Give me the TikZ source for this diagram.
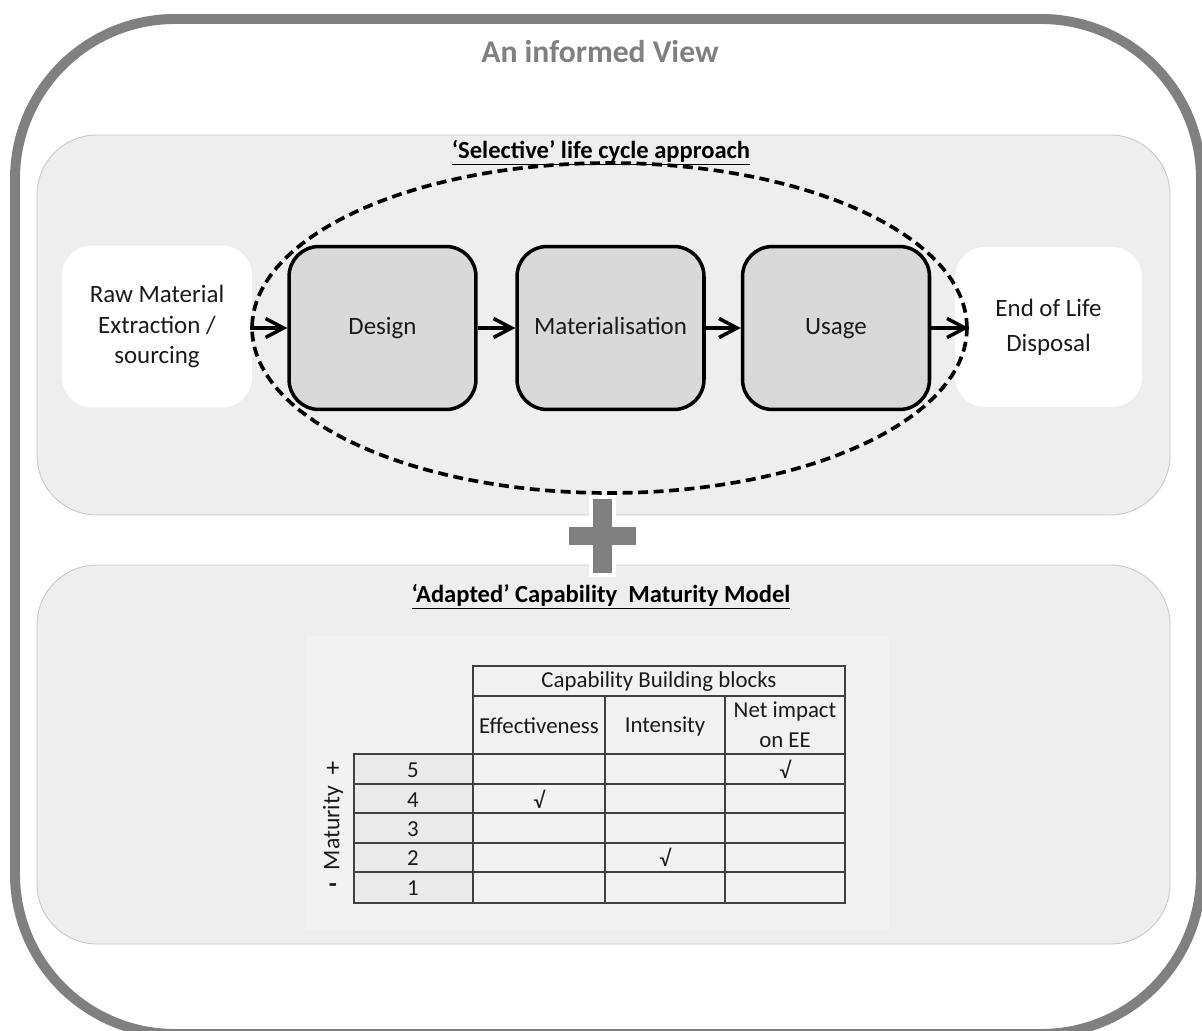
\documentclass[tikz,border=0pt]{standalone}
\usepackage{fontspec}
\setmainfont{Carlito}
\usetikzlibrary{arrows.meta,shapes.geometric}
\definecolor{framegray}{HTML}{808080}
\definecolor{panelfill}{HTML}{EEEEEE}
\definecolor{panelline}{HTML}{C8C8C8}
\definecolor{stagefill}{HTML}{D9D9D9}
\definecolor{tablebg}{HTML}{F2F2F2}
\definecolor{numcol}{HTML}{EAEAEA}
\definecolor{gridline}{HTML}{404040}
\definecolor{inktext}{HTML}{1A1A1A}
\tikzset{
  panel/.style={fill=panelfill, draw=panelline, line width=0.5pt, rounded corners=1.2cm},
  heading/.style={font=\fontsize{14}{17}\selectfont\bfseries, inner sep=0pt},
  outerbox/.style={fill=white, rounded corners=0.6cm, minimum width=3.8cm, minimum height=3.24cm, align=center, font=\fontsize{14.2}{17.5}\selectfont, inner sep=0pt, text=inktext},
  stagebox/.style={fill=stagefill, draw=black, line width=2pt, rounded corners=0.6cm, minimum width=3.74cm, minimum height=3.26cm, align=center, font=\fontsize{14.2}{17}\selectfont, inner sep=0pt, text height=10pt, text depth=3pt, text=inktext},
  flowarrow/.style={line width=2pt, -{Straight Barb[length=3.6mm, width=3.8mm]}},
  tabtext/.style={font=\fontsize{13}{17}\selectfont, align=center, inner sep=0pt, text=inktext},
  gridpen/.style={draw=gridline, line width=0.8pt},
}
\begin{document}
\begin{tikzpicture}[x=0.02cm, y=-0.02cm]
\useasboundingbox (0,0) rectangle (1202,1030);
\clip (0,0) rectangle (1202,1030);
% outer frame
\draw[framegray, line width=5.67pt, rounded corners=3.2cm] (15,19) rectangle (1201,1034);
\node[font=\fontsize{18}{22}\selectfont\bfseries, text=framegray] (title) at (600,52) {An informed View};
% panels
\draw[panel] (37,135) rectangle (1170,515);
\draw[panel] (37,565) rectangle (1170,944);
\node[heading] (h1) at (601,153) {\underline{‘Selective’ life cycle approach}};
\node[heading] (h2) at (601,597) {\underline{‘Adapted’ Capability\ \ Maturity Model}};
% life-cycle boxes
\node[outerbox] (raw) at (157,326.5) {Raw Material\\Extraction /\\sourcing};
\node[stagebox] (design) at (382.5,328) {Design};
\node[stagebox] (mat) at (610.5,328) {Materialisation};
\node[stagebox] (usage) at (836,328) {Usage};
\node[outerbox, minimum width=3.74cm, minimum height=3.2cm, font=\fontsize{14.2}{20}\selectfont] (eol) at (1048.5,327) {End of Life\\Disposal};
% selective ellipse
\node[ellipse, draw=black, line width=2.1pt, dash pattern=on 0.2cm off 0.11cm, minimum width=14.3cm, minimum height=6.6cm, inner sep=0pt] (sel) at (609.5,328) {};
% arrows
\draw[flowarrow] (sel.west) -- (design.west);
\draw[flowarrow] (design.east) -- (mat.west);
\draw[flowarrow] (mat.east) -- (usage.west);
\draw[flowarrow] (usage.east) -- (sel.east);
% plus sign
\fill[white] (589,495) rectangle (616,577);
\fill[white] (565,522) rectangle (640,551);
\fill[framegray] (593,499) rectangle (612,573);
\fill[framegray] (569,527) rectangle (636,545);
% table
\fill[tablebg] (306,636) rectangle (889,930);
\fill[numcol] (354,754) rectangle (473,903);
\draw[gridpen] (473,666) rectangle (845,696);
\draw[gridpen] (473,696) rectangle (845,754);
\draw[gridpen] (354,754) rectangle (845,903);
\foreach \yy in {784,813,843,872} \draw[gridpen] (354,\yy) -- (845,\yy);
\draw[gridpen] (473,754) -- (473,903);
\draw[gridpen] (605,696) -- (605,903);
\draw[gridpen] (725,696) -- (725,903);
\node[tabtext] (cbb) at (659,682) {Capability Building blocks};
\node[tabtext] (eff) at (539,726) {Effectiveness};
\node[tabtext] (int) at (665,726) {Intensity};
\node[tabtext] (net) at (785,725) {Net impact\\on EE};
\node[tabtext] (r5) at (413,770) {5};
\node[tabtext] (r4) at (413,800) {4};
\node[tabtext] (r3) at (413,829) {3};
\node[tabtext] (r2) at (413,858.5) {2};
\node[tabtext] (r1) at (413,888.5) {1};
\node[tabtext] (c5) at (785,769) {√};
\node[tabtext] (c4) at (539,799) {√};
\node[tabtext] (c2) at (665,857.5) {√};
\node[tabtext, font=\fontsize{13.5}{16}\selectfont, rotate=90] (mlabel) at (333,828) {Maturity};
\node[tabtext, font=\fontsize{15}{18}\selectfont] (plus) at (333,769) {+};
\node[tabtext, font=\fontsize{15}{18}\selectfont\bfseries] (minus) at (333,888) {-};
\end{tikzpicture}
\end{document}
